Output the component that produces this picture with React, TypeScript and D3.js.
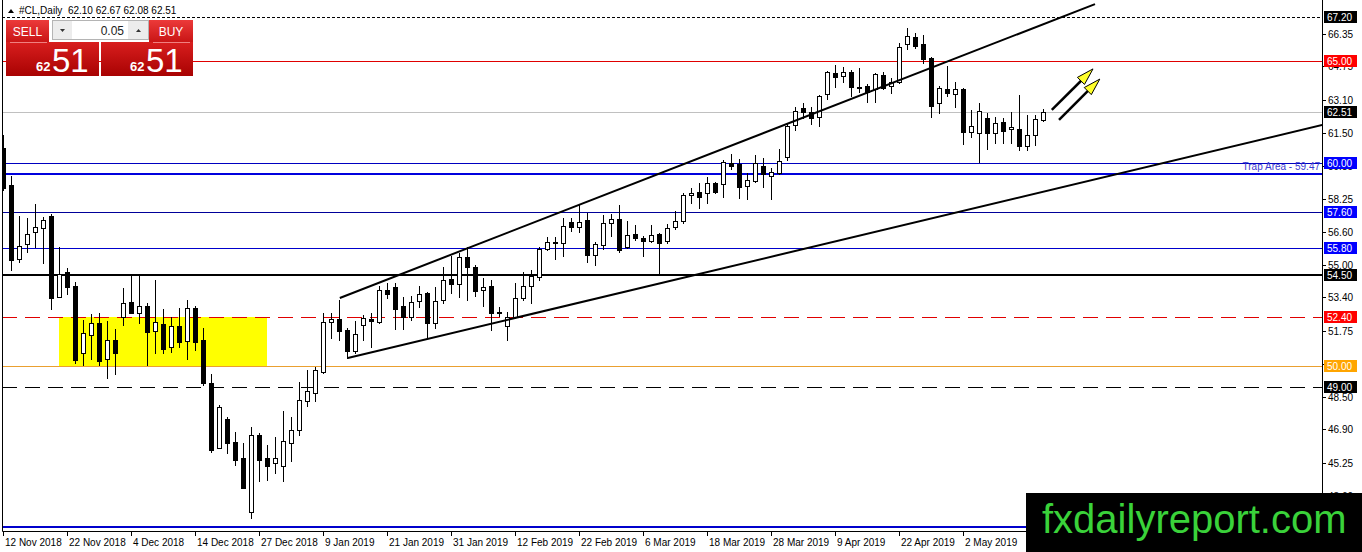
import * as d3 from "d3";
import { useEffect, useRef } from "react";

// daily OHLC, one entry per trading day from 12 Nov 2018
const opens = [
  60.74, 58.92, 55.28, 56.02, 56.61, 56.8, 57.39, 53.41, 54.64, 53.95,
  50.65, 51.54, 52.13, 50.36, 51.29, 52.42, 53.16, 52.62, 52.97, 51.74,
  52.08, 50.95, 51.98, 51.24, 52.87, 51.29, 49.18, 45.98, 47.41, 46.27,
  45.49, 42.83, 46.62, 45.49, 45.24, 45.09, 46.22, 46.86, 48.29, 48.68,
  49.72, 52.18, 52.33, 51.78, 50.75, 52.03, 52.33, 52.18, 53.75, 53.9,
  52.97, 52.42, 53.21, 53.6, 52.13, 53.26, 54.29, 54.05, 55.38, 54.88,
  53.75, 53.95, 52.62, 51.98, 52.42, 53.36, 53.95, 54.39, 55.77, 56.11,
  56.06, 57.1, 56.85, 57.2, 55.47, 55.97, 57.05, 57.25, 55.87, 56.51,
  56.31, 56.16, 56.51, 56.16, 56.85, 57.15, 58.43, 58.57, 58.52, 59.02,
  58.97, 60.0, 59.95, 58.87, 59.12, 59.85, 59.36, 59.51, 60.3, 61.87,
  62.71, 62.51, 62.26, 63.4, 64.43, 64.28, 64.48, 63.74, 63.79, 63.64,
  64.33, 63.79, 63.99, 65.86, 66.2, 65.86, 65.17, 62.95, 63.64, 63.4,
  63.64, 61.53, 61.48, 62.21, 61.48, 62.02, 61.67, 61.67, 60.84, 61.38,
  62.1,
];
const highs = [
  61.38, 59.36, 57.39, 57.29, 57.98, 57.34, 57.49, 55.87, 54.83, 54.15,
  52.28, 52.57, 52.62, 52.23, 51.83, 53.85, 54.54, 54.44, 53.11, 54.24,
  52.82, 52.42, 52.87, 53.26, 52.97, 51.88, 49.62, 48.09, 47.5, 46.77,
  46.22, 47.01, 46.72, 46.13, 46.52, 47.8, 47.5, 49.23, 49.82, 49.96,
  52.62, 52.62, 53.26, 51.88, 52.23, 52.52, 52.62, 53.95, 54.1, 54.1,
  53.41, 53.46, 53.95, 53.65, 53.9, 54.88, 55.43, 55.57, 55.87, 54.98,
  54.34, 54.24, 52.92, 52.67, 54.1, 54.64, 54.74, 55.87, 56.36, 56.36,
  57.29, 57.29, 57.93, 57.54, 56.11, 57.44, 57.49, 57.93, 57.15, 56.95,
  56.41, 56.95, 56.56, 57.01, 57.64, 58.52, 58.77, 59.02, 59.31, 59.07,
  60.15, 60.44, 60.2, 59.51, 60.39, 60.25, 59.75, 60.69, 61.97, 62.76,
  62.95, 62.76, 63.35, 64.53, 64.82, 64.72, 64.58, 64.67, 63.89, 64.43,
  64.48, 64.18, 65.9, 66.64, 66.4, 66.3, 65.22, 63.79, 64.77, 63.99,
  63.69, 62.61, 62.95, 62.46, 62.26, 62.21, 62.51, 63.35, 62.36, 62.36,
  62.67,
];
const lows = [
  58.67, 54.74, 55.13, 55.62, 55.87, 55.08, 52.82, 53.41, 53.56, 50.16,
  50.06, 50.36, 50.06, 49.42, 49.62, 52.03, 52.62, 52.13, 50.06, 50.65,
  50.65, 50.7, 50.95, 50.36, 50.8, 49.08, 45.78, 45.98, 45.73, 45.14,
  44.01, 42.53, 44.36, 44.4, 44.75, 44.36, 45.34, 46.62, 48.05, 48.29,
  49.67, 51.39, 51.29, 50.41, 50.65, 51.29, 50.95, 52.13, 53.36, 51.83,
  51.83, 52.28, 52.92, 51.39, 51.88, 53.11, 53.6, 53.41, 53.26, 53.46,
  52.97, 51.78, 52.47, 51.29, 52.37, 53.26, 53.11, 54.24, 55.72, 55.28,
  55.43, 56.66, 56.61, 55.13, 54.98, 55.77, 56.41, 55.62, 55.82, 56.21,
  55.43, 56.11, 54.59, 56.06, 56.75, 57.05, 58.03, 57.79, 58.03, 58.52,
  58.33, 59.71, 58.28, 58.23, 59.07, 58.82, 58.23, 59.46, 60.15, 61.62,
  62.21, 61.92, 61.82, 63.15, 63.74, 63.99, 63.3, 63.49, 63.0, 63.0,
  63.64, 63.44, 63.94, 65.61, 65.66, 64.92, 62.26, 62.46, 63.3, 62.76,
  60.94, 61.28, 60.05, 60.69, 60.98, 60.98, 60.98, 60.64, 60.64, 60.89,
  62.08,
];
const closes = [
  58.77, 55.23, 55.92, 56.51, 56.85, 57.2, 53.36, 54.54, 53.9, 50.31,
  51.64, 52.13, 50.26, 51.29, 50.65, 53.11, 52.62, 52.97, 51.69, 52.18,
  50.85, 51.98, 51.19, 52.87, 51.19, 49.18, 45.88, 48.0, 46.22, 45.39,
  44.01, 46.62, 45.39, 45.09, 45.49, 46.32, 46.86, 48.34, 48.78, 49.82,
  52.18, 52.33, 51.74, 50.75, 51.59, 52.37, 52.23, 53.75, 53.56, 52.82,
  52.42, 53.16, 53.56, 52.13, 53.21, 54.24, 54.05, 55.38, 54.88, 53.7,
  53.9, 52.62, 52.67, 52.42, 53.36, 53.95, 54.44, 55.77, 56.11, 56.06,
  56.9, 56.85, 57.1, 55.47, 56.02, 57.05, 57.25, 55.72, 56.46, 56.31,
  56.16, 56.46, 56.06, 56.8, 57.15, 58.43, 58.52, 58.33, 59.02, 58.57,
  60.05, 59.85, 58.82, 59.16, 60.0, 59.46, 59.56, 60.1, 61.82, 62.56,
  62.51, 62.21, 63.3, 64.48, 64.23, 64.48, 63.74, 63.69, 63.49, 64.38,
  63.69, 63.99, 65.71, 66.25, 65.76, 65.12, 62.81, 63.69, 63.44, 63.64,
  61.53, 61.82, 62.56, 61.48, 61.97, 61.58, 61.77, 60.84, 61.38, 62.17,
  62.51,
];

const dateTicks = [
  { index: 0, label: "12 Nov 2018" },
  { index: 8, label: "22 Nov 2018" },
  { index: 16, label: "4 Dec 2018" },
  { index: 24, label: "14 Dec 2018" },
  { index: 32, label: "27 Dec 2018" },
  { index: 40, label: "9 Jan 2019" },
  { index: 48, label: "21 Jan 2019" },
  { index: 56, label: "31 Jan 2019" },
  { index: 64, label: "12 Feb 2019" },
  { index: 72, label: "22 Feb 2019" },
  { index: 80, label: "6 Mar 2019" },
  { index: 88, label: "18 Mar 2019" },
  { index: 96, label: "28 Mar 2019" },
  { index: 104, label: "9 Apr 2019" },
  { index: 112, label: "22 Apr 2019" },
  { index: 120, label: "2 May 2019" },
];

const priceTicks = [
  66.35, 64.75, 63.1, 61.5, 59.85, 58.25, 56.6, 55.0, 53.4, 51.75, 50.1,
  48.5, 46.9, 45.25, 43.6,
];

// horizontal levels drawn on the chart
const levels = [67.2, 65.0, 62.51, 60.0, 59.47, 57.6, 55.8, 54.5, 52.4, 50.0, 49.0, 42.1];
const trapArea = 59.47;

// yellow zone: candle index range and price range
const zoneIndex = [7, 33];
const zonePrice = [52.4, 50.0];

// trend channel, [candle index, price]
const upperChannel = [
  [42.1, 53.36],
  [136.5, 67.82],
];
const lowerChannel = [
  [43.1, 50.41],
  [164.9, 61.87],
];

// the two yellow arrows, start -> tip
const arrows = [
  [
    [131.1, 62.61],
    [136.25, 64.63],
  ],
  [
    [132.0, 62.12],
    [137.1, 64.13],
  ],
];

const CandleChart = () => {
  const ref = useRef<SVGSVGElement>(null);

  useEffect(() => {
    const width = 1362;
    const height = 552;
    const plotLeft = 2;
    const plotRight = 1322;
    const plotBottom = 531;
    const font = "'Liberation Sans', Arial, sans-serif";

    const svg = d3.select(ref.current);
    svg.selectAll("*").remove();

    const x = d3.scaleLinear().domain([0, 130]).range([3, 1043]);
    const y = d3.scaleLinear().domain([43.42, 68.02]).range([500, 0]);
    const px = (v: number) => Math.round(x(v));
    const py = (v: number) => Math.round(y(v));

    svg.append("rect").attr("width", width).attr("height", height).attr("fill", "white");

    const defs = svg.append("defs");
    defs
      .append("clipPath")
      .attr("id", "plot-clip")
      .append("rect")
      .attr("x", plotLeft)
      .attr("y", 0)
      .attr("width", plotRight - plotLeft)
      .attr("height", plotBottom);

    const grad = (id: string, top: string, bottom: string) => {
      const g = defs
        .append("linearGradient")
        .attr("id", id)
        .attr("x1", 0)
        .attr("y1", 0)
        .attr("x2", 0)
        .attr("y2", 1);
      g.append("stop").attr("offset", "0%").attr("stop-color", top);
      g.append("stop").attr("offset", "100%").attr("stop-color", bottom);
    };
    grad("btnRed", "#ec3a3a", "#c91515");
    grad("bigRed", "#d81e1e", "#a80202");

    const plot = svg.append("g").attr("clip-path", "url(#plot-clip)");

    // yellow zone
    plot
      .append("rect")
      .attr("x", px(zoneIndex[0]))
      .attr("y", py(zonePrice[0]))
      .attr("width", px(zoneIndex[1]) - px(zoneIndex[0]))
      .attr("height", py(zonePrice[1]) - py(zonePrice[0]))
      .attr("fill", "#ffff00");

    const levelLook = [
      { color: "#000000", w: 1, dash: "3,2", box: "#000000" },
      { color: "#e00000", w: 1, dash: null, box: "#ff0000" },
      { color: "#c0c0c0", w: 1, dash: null, box: "#000000" },
      { color: "#0000c0", w: 1, dash: null, box: "#0000ff" },
      { color: "#0000dd", w: 2, dash: null, box: null },
      { color: "#000099", w: 1, dash: null, box: "#0000ff" },
      { color: "#0000cc", w: 1, dash: null, box: "#0000ff" },
      { color: "#000000", w: 2, dash: null, box: "#000000" },
      { color: "#e00000", w: 1, dash: "15,8", box: "#ff0000" },
      { color: "#eaa030", w: 1, dash: null, box: "#ffa500" },
      { color: "#000000", w: 1, dash: "15,8", box: "#000000" },
      { color: "#0000cc", w: 2, dash: null, box: null },
    ];

    levels.forEach((p, i) => {
      const look = levelLook[i];
      const yy = py(p) + (look.w % 2 ? 0.5 : 0);
      const line = plot
        .append("line")
        .attr("x1", plotLeft)
        .attr("x2", plotRight)
        .attr("y1", yy)
        .attr("y2", yy)
        .attr("stroke", look.color)
        .attr("stroke-width", look.w);
      if (look.dash) line.attr("stroke-dasharray", look.dash);
    });

    plot
      .append("text")
      .attr("x", plotRight - 2)
      .attr("y", py(trapArea) - 4)
      .attr("text-anchor", "end")
      .attr("font-family", font)
      .attr("font-size", 10)
      .attr("fill", "#3a3ad0")
      .text(`Trap Area - ${trapArea.toFixed(2)}`);

    // candles
    const candles = d3.range(opens.length).map((i) => ({
      i,
      o: opens[i],
      h: highs[i],
      l: lows[i],
      c: closes[i],
    }));

    const cg = plot.append("g").selectAll("g").data(candles).join("g");

    cg.append("line")
      .attr("x1", (d) => px(d.i) + 0.5)
      .attr("x2", (d) => px(d.i) + 0.5)
      .attr("y1", (d) => py(d.h))
      .attr("y2", (d) => py(d.l) + 1)
      .attr("stroke", "black")
      .attr("stroke-width", 1);

    cg.filter((d) => d.c >= d.o)
      .append("rect")
      .attr("x", (d) => px(d.i) - 1.5)
      .attr("y", (d) => py(d.c) + 0.5)
      .attr("width", 4)
      .attr("height", (d) => Math.max(py(d.o) - py(d.c), 1))
      .attr("fill", "white")
      .attr("stroke", "black")
      .attr("stroke-width", 1);

    cg.filter((d) => d.c < d.o)
      .append("rect")
      .attr("x", (d) => px(d.i) - 2)
      .attr("y", (d) => py(d.o))
      .attr("width", 5)
      .attr("height", (d) => Math.max(py(d.c) - py(d.o), 1) + 1)
      .attr("fill", "black");

    // channel
    const line = d3
      .line<number[]>()
      .x((d) => x(d[0]))
      .y((d) => y(d[1]));
    [upperChannel, lowerChannel].forEach((pts) =>
      plot
        .append("path")
        .attr("d", line(pts))
        .attr("stroke", "black")
        .attr("stroke-width", 2)
        .attr("fill", "none")
    );

    // arrows
    arrows.forEach(([s, e]) => {
      const x0 = x(s[0]);
      const y0 = y(s[1]);
      const x1 = x(e[0]);
      const y1 = y(e[1]);
      const len = Math.hypot(x1 - x0, y1 - y0);
      const ux = (x1 - x0) / len;
      const uy = (y1 - y0) / len;
      const headLen = 17;
      const half = 5;
      const bx = x1 - ux * headLen;
      const by = y1 - uy * headLen;
      plot
        .append("line")
        .attr("x1", x0)
        .attr("y1", y0)
        .attr("x2", bx + ux * 2)
        .attr("y2", by + uy * 2)
        .attr("stroke", "black")
        .attr("stroke-width", 2.5);
      plot
        .append("path")
        .attr(
          "d",
          `M${x1},${y1}L${bx - uy * half},${by + ux * half}L${bx + uy * half},${by - ux * half}Z`
        )
        .attr("fill", "#ffff2a")
        .attr("stroke", "black")
        .attr("stroke-width", 1);
    });

    // frame
    svg
      .append("path")
      .attr("d", `M${plotLeft + 0.5},0V${plotBottom + 0.5}H${plotRight + 0.5}V0`)
      .attr("fill", "none")
      .attr("stroke", "black");

    // right price axis
    const ra = svg.append("g");
    priceTicks.forEach((p) => {
      ra.append("line")
        .attr("x1", plotRight)
        .attr("x2", plotRight + 4)
        .attr("y1", py(p) + 0.5)
        .attr("y2", py(p) + 0.5)
        .attr("stroke", "black");
      ra.append("text")
        .attr("x", plotRight + 6)
        .attr("y", py(p) + 4)
        .attr("font-family", font)
        .attr("font-size", 10)
        .attr("fill", "black")
        .text(p.toFixed(2));
    });

    levels.forEach((p, i) => {
      const look = levelLook[i];
      if (!look.box) return;
      ra.append("rect")
        .attr("x", plotRight + 2)
        .attr("y", py(p) - 6)
        .attr("width", 33)
        .attr("height", 12)
        .attr("fill", look.box);
      ra.append("text")
        .attr("x", plotRight + 5)
        .attr("y", py(p) + 4)
        .attr("font-family", font)
        .attr("font-size", 10)
        .attr("fill", "white")
        .text(p.toFixed(2));
    });

    // bottom date axis
    const ba = svg.append("g");
    dateTicks.forEach((t) => {
      ba.append("line")
        .attr("x1", px(t.index) + 0.5)
        .attr("x2", px(t.index) + 0.5)
        .attr("y1", plotBottom)
        .attr("y2", plotBottom + 5)
        .attr("stroke", "black");
      ba.append("text")
        .attr("x", px(t.index) + 2)
        .attr("y", plotBottom + 15)
        .attr("font-family", font)
        .attr("font-size", 10)
        .attr("fill", "black")
        .text(t.label);
    });

    // header
    const last = candles[candles.length - 1];
    svg.append("path").attr("d", "M8,13L11,9L14,13Z").attr("fill", "black");
    svg
      .append("text")
      .attr("x", 19)
      .attr("y", 14)
      .attr("font-family", font)
      .attr("font-size", 10)
      .style("white-space", "pre")
      .text(
        `#CL,Daily  ${last.o.toFixed(2)} ${last.h.toFixed(2)} ${last.l.toFixed(2)} ${last.c.toFixed(2)}`
      );

    // one-click trading panel
    const [big, small] = last.c.toFixed(2).split(".");
    const panel = svg.append("g").attr("font-family", font);
    panel.append("rect").attr("x", 6).attr("y", 20).attr("width", 43).attr("height", 22).attr("fill", "url(#btnRed)");
    panel.append("rect").attr("x", 149).attr("y", 20).attr("width", 44).attr("height", 22).attr("fill", "url(#btnRed)");
    panel.append("rect").attr("x", 6).attr("y", 42).attr("width", 93).attr("height", 34).attr("fill", "url(#bigRed)");
    panel.append("rect").attr("x", 101).attr("y", 42).attr("width", 92).attr("height", 34).attr("fill", "url(#bigRed)");
    panel.append("line").attr("x1", 10).attr("x2", 47).attr("y1", 42.5).attr("y2", 42.5).attr("stroke", "#f08080");
    panel.append("line").attr("x1", 153).attr("x2", 190).attr("y1", 42.5).attr("y2", 42.5).attr("stroke", "#f08080");
    panel.append("text").attr("x", 27.5).attr("y", 36).attr("text-anchor", "middle").attr("font-size", 12).attr("fill", "white").text("SELL");
    panel.append("text").attr("x", 171).attr("y", 36).attr("text-anchor", "middle").attr("font-size", 12).attr("fill", "white").text("BUY");

    panel.append("rect").attr("x", 52.5).attr("y", 20.5).attr("width", 96).attr("height", 19).attr("fill", "#ececec").attr("stroke", "#b4b4b4");
    panel.append("rect").attr("x", 72).attr("y", 21).attr("width", 56).attr("height", 18).attr("fill", "white");
    panel.append("path").attr("d", "M60,29H65L62.5,32Z").attr("fill", "#333");
    panel.append("path").attr("d", "M136,32H141L138.5,29Z").attr("fill", "#333");
    panel.append("text").attr("x", 124).attr("y", 35).attr("text-anchor", "end").attr("font-size", 12).attr("fill", "#222").text("0.05");

    [
      [36, 52],
      [130, 146],
    ].forEach(([sx, bx]) => {
      panel.append("text").attr("x", sx).attr("y", 71).attr("font-size", 13).attr("font-weight", "bold").attr("fill", "white").text(big);
      panel.append("text").attr("x", bx).attr("y", 72).attr("font-size", 33).attr("fill", "white").text(small);
    });

    // watermark
    svg.append("rect").attr("x", 1026).attr("y", 493).attr("width", 336).attr("height", 59).attr("fill", "black");
    svg
      .append("text")
      .attr("x", 1042)
      .attr("y", 533)
      .attr("font-family", font)
      .attr("font-size", 40)
      .attr("fill", "#3ad23a")
      .text("fxdailyreport.com");
  }, []);

  return (
    <svg
      ref={ref}
      width={1362}
      height={552}
      style={{ position: "absolute", left: 0, top: 0, display: "block" }}
    />
  );
};

export default function App() {
  return <CandleChart />;
}
